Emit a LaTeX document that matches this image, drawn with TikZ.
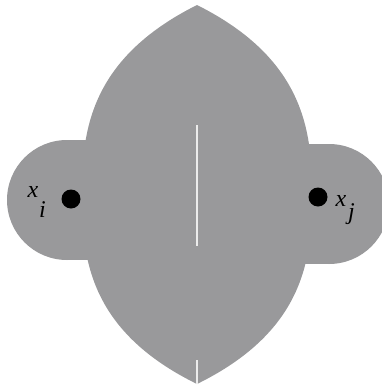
\documentclass[tikz,border=0pt]{standalone}
\usepackage{fontspec}
\setmainfont{Liberation Serif}
\usetikzlibrary{positioning}
\definecolor{CellGray}{RGB}{153,153,155}
\definecolor{SeamWhite}{RGB}{236,236,236}
\tikzset{
  region/.style = {fill=CellGray, draw=none},
  seam/.style   = {draw=SeamWhite, line width=1.5pt}
}

\begin{document}
\begin{tikzpicture}[
    x=1pt, y=-1pt,
    site/.style={circle, fill=black, inner sep=0pt, minimum size=19pt},
    lbl/.style={font=\fontsize{24}{24}\selectfont\itshape, inner sep=0pt}
]
\useasboundingbox (0,0) rectangle (382,389);

% lens
\coordinate (top) at (197,5);
\coordinate (bot) at (197,384);
\fill[region] (top) .. controls (87,60) and (82,135) .. (82,195)
  .. controls (82,255) and (87,330) .. (bot)
  .. controls (307,330) and (312,255) .. (312,195)
  .. controls (312,135) and (307,60) .. (top) -- cycle;

% side lobes
\fill[region] (67,140) rectangle (120,260);
\fill[region] (67,200) circle (60);
\fill[region] (276,144) rectangle (329,264);
\fill[region] (329,204) circle (60);

% seams
\coordinate (s1) at (197,125);
\coordinate (s2) at (197,246);
\coordinate (s3) at (197,360);
\draw[seam] (s1) -- (s2);
\draw[seam] (s3) -- (bot);

% sites
\node[site] (xi) at (71,199) {};
\node[site] (xj) at (318,197) {};

\node[lbl, anchor=base] (xilbl) at (33,197) {x};
\node[lbl, anchor=base west] (ilbl) at (39,217) {i};
\node[lbl, anchor=base] (xjlbl) at (341,206) {x};
\node[lbl, anchor=base west] (jlbl) at (348,219) {j};
\end{tikzpicture}
\end{document}
